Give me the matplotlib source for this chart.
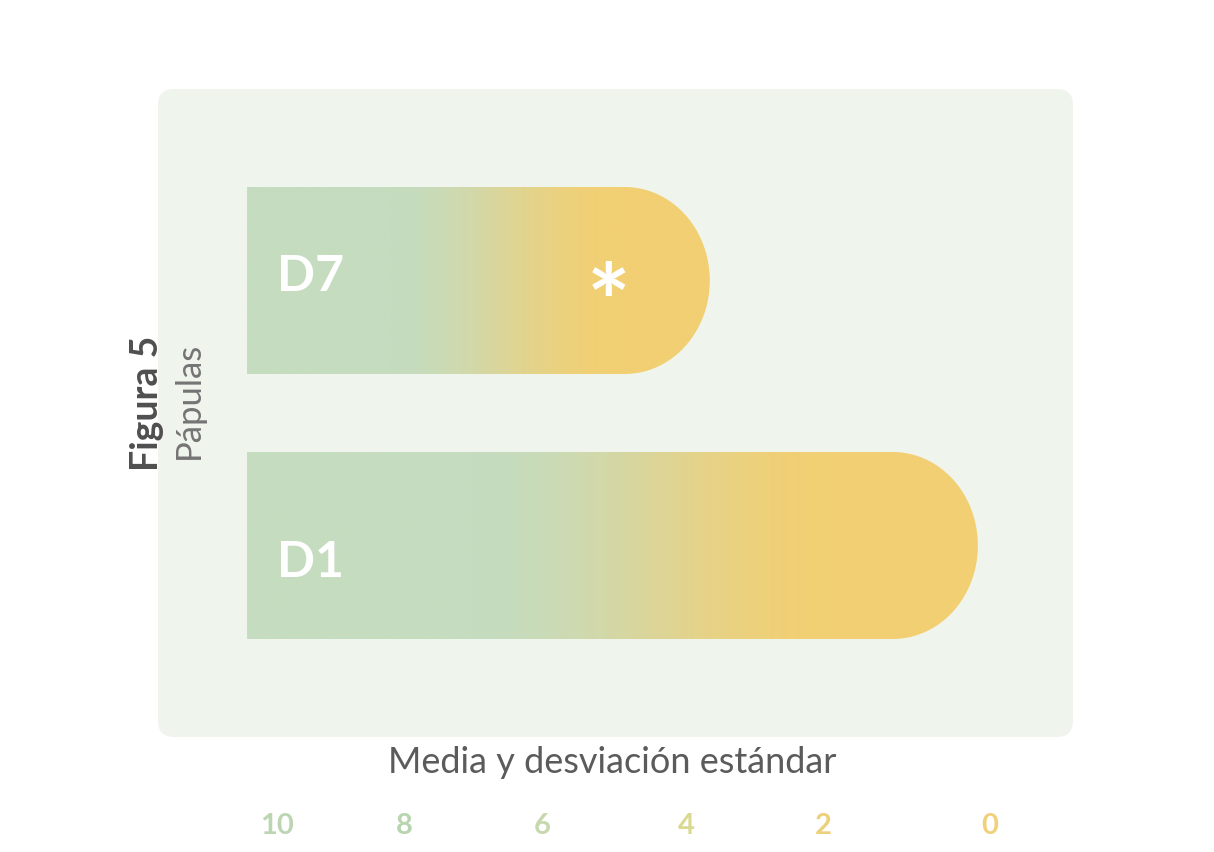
import matplotlib.pyplot as plt
import numpy as np
from matplotlib.colors import to_rgb
from matplotlib.patches import FancyBboxPatch, PathPatch
from matplotlib.path import Path

# data (axis runs from 10 on the left to 0 on the right)
groups = ["D1", "D7"]
bar_start = [10.42, 10.42]
bar_end = [0.17, 3.93]
significant = [False, True]
tick_values = [10, 8, 6, 4, 2, 0]
tick_labels = ["10", "8", "6", "4", "2", "0"]
# where the labels actually sit in the original layout (spacing is uneven)
TICK_POS = [10.0, 8.22, 6.28, 4.26, 2.34, 0.0]

GREEN = "#c5dcbf"
YELLOW = "#f2cf73"
PANEL = "#eff5ec"
TICK_COLORS = ["#bcd6b4", "#b9d5b0", "#c8d8ae", "#d9d98f", "#edd07a", "#f1d07a"]

W, H = 1214, 853
PX_PER_X = 71.3   # pixels per data unit along x
PX_PER_Y = 265.0  # pixels between the two bar rows
X0_PX = 990       # pixel column of value 0
Y0_PX = 546.5     # pixel row of the D1 bar centre

BAR_H = 187 / PX_PER_Y
CAP_RX = 85 / PX_PER_X


def blend(t):
    # green held until ~31% of the bar, yellow from ~80%
    w = np.clip((t - 0.31) / (0.80 - 0.31), 0, 1)
    w = w * w * (3 - 2 * w)
    g, y = np.array(to_rgb(GREEN)), np.array(to_rgb(YELLOW))
    return g[None, :] * (1 - w[:, None]) + y[None, :] * w[:, None]


def bar_path(left, end, yc, h, rx):
    ry = h / 2
    theta = np.linspace(-np.pi / 2, np.pi / 2, 60)
    verts = [(left, yc - ry), (end + rx, yc - ry)]
    verts += [(end + rx - rx * np.cos(a), yc + ry * np.sin(a)) for a in theta]
    verts += [(left, yc + ry), (left, yc - ry)]
    codes = [Path.MOVETO] + [Path.LINETO] * (len(verts) - 2) + [Path.CLOSEPOLY]
    return Path(verts, codes)


fig = plt.figure(figsize=(W / 100, H / 100), dpi=100)
fig.patch.set_facecolor("white")

ax = fig.add_axes([0, 0, 1, 1])
ax.patch.set_alpha(0)
ax.set_xlim(X0_PX / PX_PER_X, (X0_PX - W) / PX_PER_X)
ax.set_ylim(-(H - Y0_PX) / PX_PER_Y, Y0_PX / PX_PER_Y)
ax.set_autoscale_on(False)
ax.axis("off")

# rounded panel behind the chart
panel = FancyBboxPatch(
    (158 / W, 1 - 738 / H), (1073 - 158) / W, (738 - 90) / H,
    boxstyle=f"round,pad=0,rounding_size={16 / W}",
    mutation_aspect=W / H,
    transform=fig.transFigure, facecolor=PANEL, edgecolor="none", zorder=0,
)
ax.add_artist(panel)

label_dy = [-16 / PX_PER_Y, 5 / PX_PER_Y]
for i, (name, left, end, star) in enumerate(zip(groups, bar_start, bar_end, significant)):
    yc = i
    path = bar_path(left, end, yc, BAR_H, CAP_RX)
    patch = PathPatch(path, facecolor="none", edgecolor="none", zorder=1)
    ax.add_patch(patch)
    grad = blend(np.linspace(0, 1, 600))[None, :, :]
    im = ax.imshow(
        grad, extent=(left, end, yc - BAR_H / 2, yc + BAR_H / 2),
        aspect="auto", interpolation="bilinear", zorder=2,
    )
    im.set_clip_path(patch)
    ax.text(left - 30 / PX_PER_X, yc + label_dy[i], name, color="white",
            fontsize=36, fontweight="bold", family="Lato",
            ha="left", va="center", zorder=3)
    if star:
        ax.text(end + 101 / PX_PER_X, yc - 27 / PX_PER_Y, "*", color="white",
                fontsize=74, fontweight="bold", family="Lato",
                ha="center", va="center", zorder=3)

# axis caption and tick labels
ax.text((X0_PX - 612) / PX_PER_X, (Y0_PX - 763) / PX_PER_Y,
        "Media y desviación estándar", fontsize=26, color="#5b5b5b",
        family="Lato", ha="center", va="center")
for pos, lab, col in zip(TICK_POS, tick_labels, TICK_COLORS):
    ax.text(pos, (Y0_PX - 826) / PX_PER_Y, lab, fontsize=21, fontweight="bold",
            color=col, family="Lato", ha="center", va="center")

fig.text(147 / W, 1 - 403 / H, "Figura 5", rotation=90, fontsize=27,
         fontweight="bold", color="#4f4f4f", family="Lato",
         ha="center", va="center")
fig.text(189 / W, 1 - 400 / H, "Pápulas", rotation=90, fontsize=25,
         fontweight="normal", color="#747474", family="Lato",
         ha="center", va="center")

fig.savefig("out.png", dpi=100)
